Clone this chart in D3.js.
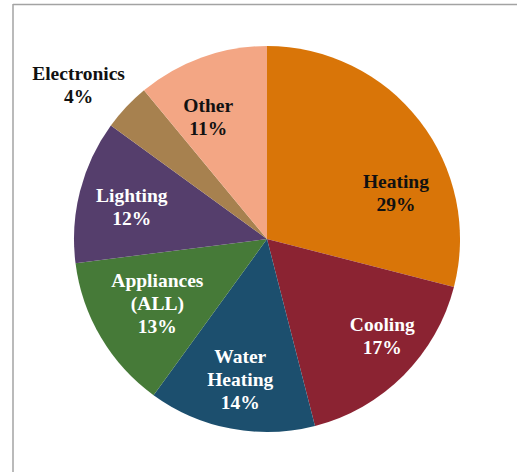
<!DOCTYPE html>
<html>
<head>
<meta charset="utf-8">
<script src="https://cdn.jsdelivr.net/npm/d3@7"></script>
<style>
  body { margin: 0; background: #fff; }
  svg { display: block; }
</style>
</head>
<body>
<svg id="chart" width="517" height="472"></svg>
<script>
// DATA
const categories = ["Heating", "Cooling", "Water Heating", "Appliances (ALL)", "Lighting", "Electronics", "Other"];
const shares = [29, 17, 14, 13, 12, 4, 11];
const labelLines = [["Heating"], ["Cooling"], ["Water", "Heating"], ["Appliances", "(ALL)"], ["Lighting"], ["Electronics"], ["Other"]];
const colors = ["#d97508", "#8b2332", "#1c4f6e", "#467a38", "#553e6c", "#a7814f", "#f3a684"];
const textColors = ["#111", "#fff", "#fff", "#fff", "#fff", "#111", "#111"];

// label placement tweaks (radius factor, angle shift in degrees)
const labelRadius = [0.71, 0.78, 0.74, 0.66, 0.72, 1.26, 0.7];
const labelShift = [18, -5, 0, 0, -1, -4, -6];

// CANVAS SETUP
const svg = d3.select("#chart");
const cx = 267, cy = 239, r = 193;

// frame (top and left edges only visible)
svg.append("line").attr("x1", 13).attr("y1", 4.5).attr("x2", 517).attr("y2", 4.5)
  .attr("stroke", "#a3a3a3").attr("stroke-width", 1.5);
svg.append("line").attr("x1", 13).attr("y1", 4).attr("x2", 13).attr("y2", 472)
  .attr("stroke", "#a3a3a3").attr("stroke-width", 1.5);

const g = svg.append("g").attr("transform", `translate(${cx},${cy})`);

const pie = d3.pie().sort(null).value((d) => d.value);
const data = categories.map((c, i) => ({ name: c, value: shares[i], i }));
const arcs = pie(data);

const arc = d3.arc().innerRadius(0).outerRadius(r);

g.selectAll("path")
  .data(arcs)
  .join("path")
  .attr("d", arc)
  .attr("fill", (d) => colors[d.data.i]);

// LABELS
const lineH = 23;
const labels = g.selectAll("g.label")
  .data(arcs)
  .join("g")
  .attr("class", "label")
  .attr("transform", (d) => {
    const i = d.data.i;
    const a = (d.startAngle + d.endAngle) / 2 + (labelShift[i] * Math.PI) / 180;
    const rr = r * labelRadius[i];
    return `translate(${rr * Math.sin(a)},${-rr * Math.cos(a)})`;
  });

labels.each(function (d) {
  const i = d.data.i;
  const lines = labelLines[i].concat([shares[i] + "%"]);
  const t = d3.select(this).append("text")
    .attr("text-anchor", "middle")
    .attr("font-family", "'Liberation Serif', 'Times New Roman', serif")
    .attr("font-weight", "bold")
    .attr("font-size", 19.5)
    .attr("fill", textColors[i]);
  lines.forEach((ln, k) => {
    t.append("tspan")
      .attr("x", 0)
      .attr("y", (k - (lines.length - 1) / 2) * lineH + 6.5)
      .text(ln);
  });
});
</script>
</body>
</html>
